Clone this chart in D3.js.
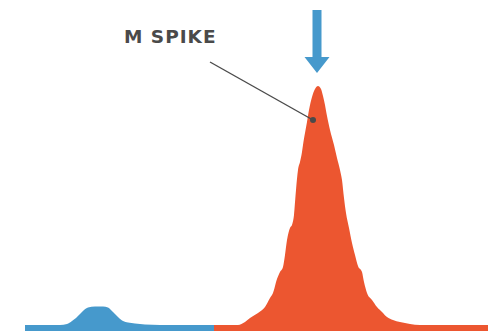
<!DOCTYPE html>
<html><head><meta charset="utf-8">
<script src="https://cdn.jsdelivr.net/npm/d3@7"></script>
<style>html,body{margin:0;padding:0;background:#fff;}svg{display:block;}</style>
</head><body>
<svg id="chart" width="488" height="333"></svg>
<script>
// Densitometry trace: mobility position (arbitrary units) and intensity (arbitrary units)
const albuminPos = [0, 35, 42, 47, 51, 55, 59, 63, 70, 78, 83, 88, 93, 98, 103, 110, 120, 135, 189];
const albuminVal = [6, 6, 7, 10, 13, 17, 21, 23.5, 24.5, 24.5, 23.5, 19, 14, 10, 8.5, 7.5, 6.5, 6, 6];
const spikePos = [189, 213, 220, 225, 233, 240, 245, 248, 252, 255, 258, 260, 262, 265, 267, 269, 271, 273, 275, 277, 278, 280, 282, 284, 287, 290, 293, 296, 298, 300, 302, 305, 309, 312, 315, 317, 319, 321, 324, 327, 330, 333, 337, 339, 342, 347, 352, 357, 362, 368, 375, 385, 395, 463];
const spikeVal = [6, 6, 9, 13, 18, 24, 33, 38, 52, 59, 64, 76, 91, 103, 106, 116, 141, 161, 169, 179, 186, 198, 209, 221, 234, 242, 245, 242, 235, 226, 215, 201, 186, 173, 161, 151, 133, 118, 103, 88, 76, 65, 59, 49, 38, 31, 24, 19, 14, 11, 9, 7, 6, 6];
const labelText = "M SPIKE";
const markerPos = 288;   // where the leader line points
const markerVal = 211;

const svg = d3.select("#chart");
const x = d3.scaleLinear().domain([0, 463]).range([25, 488]);
const y = d3.scaleLinear().domain([0, 246]).range([331, 85]);

const albumin = albuminPos.map((p, i) => ({p, v: albuminVal[i]}));
const spike = spikePos.map((p, i) => ({p, v: spikeVal[i]}));

const area = d3.area().x(d => x(d.p)).y0(y(0)).y1(d => y(d.v)).curve(d3.curveMonotoneX);

svg.append("path").datum(albumin).attr("d", area).attr("fill", "#4699cc");
svg.append("path").datum(spike).attr("d", area).attr("fill", "#ec5630");

// Arrow above the spike peak
const peakIdx = d3.maxIndex(spikeVal);
const ax = x(spikePos[peakIdx]) - 1;
const tipY = y(spikeVal[peakIdx]) - 13;
const arrow = d3.path();
arrow.moveTo(ax - 4.5, 10);
arrow.lineTo(ax + 4.5, 10);
arrow.lineTo(ax + 4.5, tipY - 16);
arrow.lineTo(ax + 12.5, tipY - 16);
arrow.lineTo(ax, tipY);
arrow.lineTo(ax - 12.5, tipY - 16);
arrow.lineTo(ax - 4.5, tipY - 16);
arrow.closePath();
svg.append("path").attr("d", arrow.toString()).attr("fill", "#4699cc");

// Leader line and marker
svg.append("line")
  .attr("x1", 210).attr("y1", 62)
  .attr("x2", x(markerPos)).attr("y2", y(markerVal))
  .attr("stroke", "#4a4a4a").attr("stroke-width", 1.4);
svg.append("circle").attr("cx", x(markerPos)).attr("cy", y(markerVal)).attr("r", 3).attr("fill", "#4a4a4a");

svg.append("text")
  .attr("x", 124).attr("y", 43)
  .attr("font-family", "'DejaVu Sans', sans-serif")
  .attr("font-weight", 700)
  .attr("font-size", 18.5)
  .attr("letter-spacing", 1.0)
  .attr("fill", "#4a4a4a")
  .text(labelText);
</script>
</body></html>
